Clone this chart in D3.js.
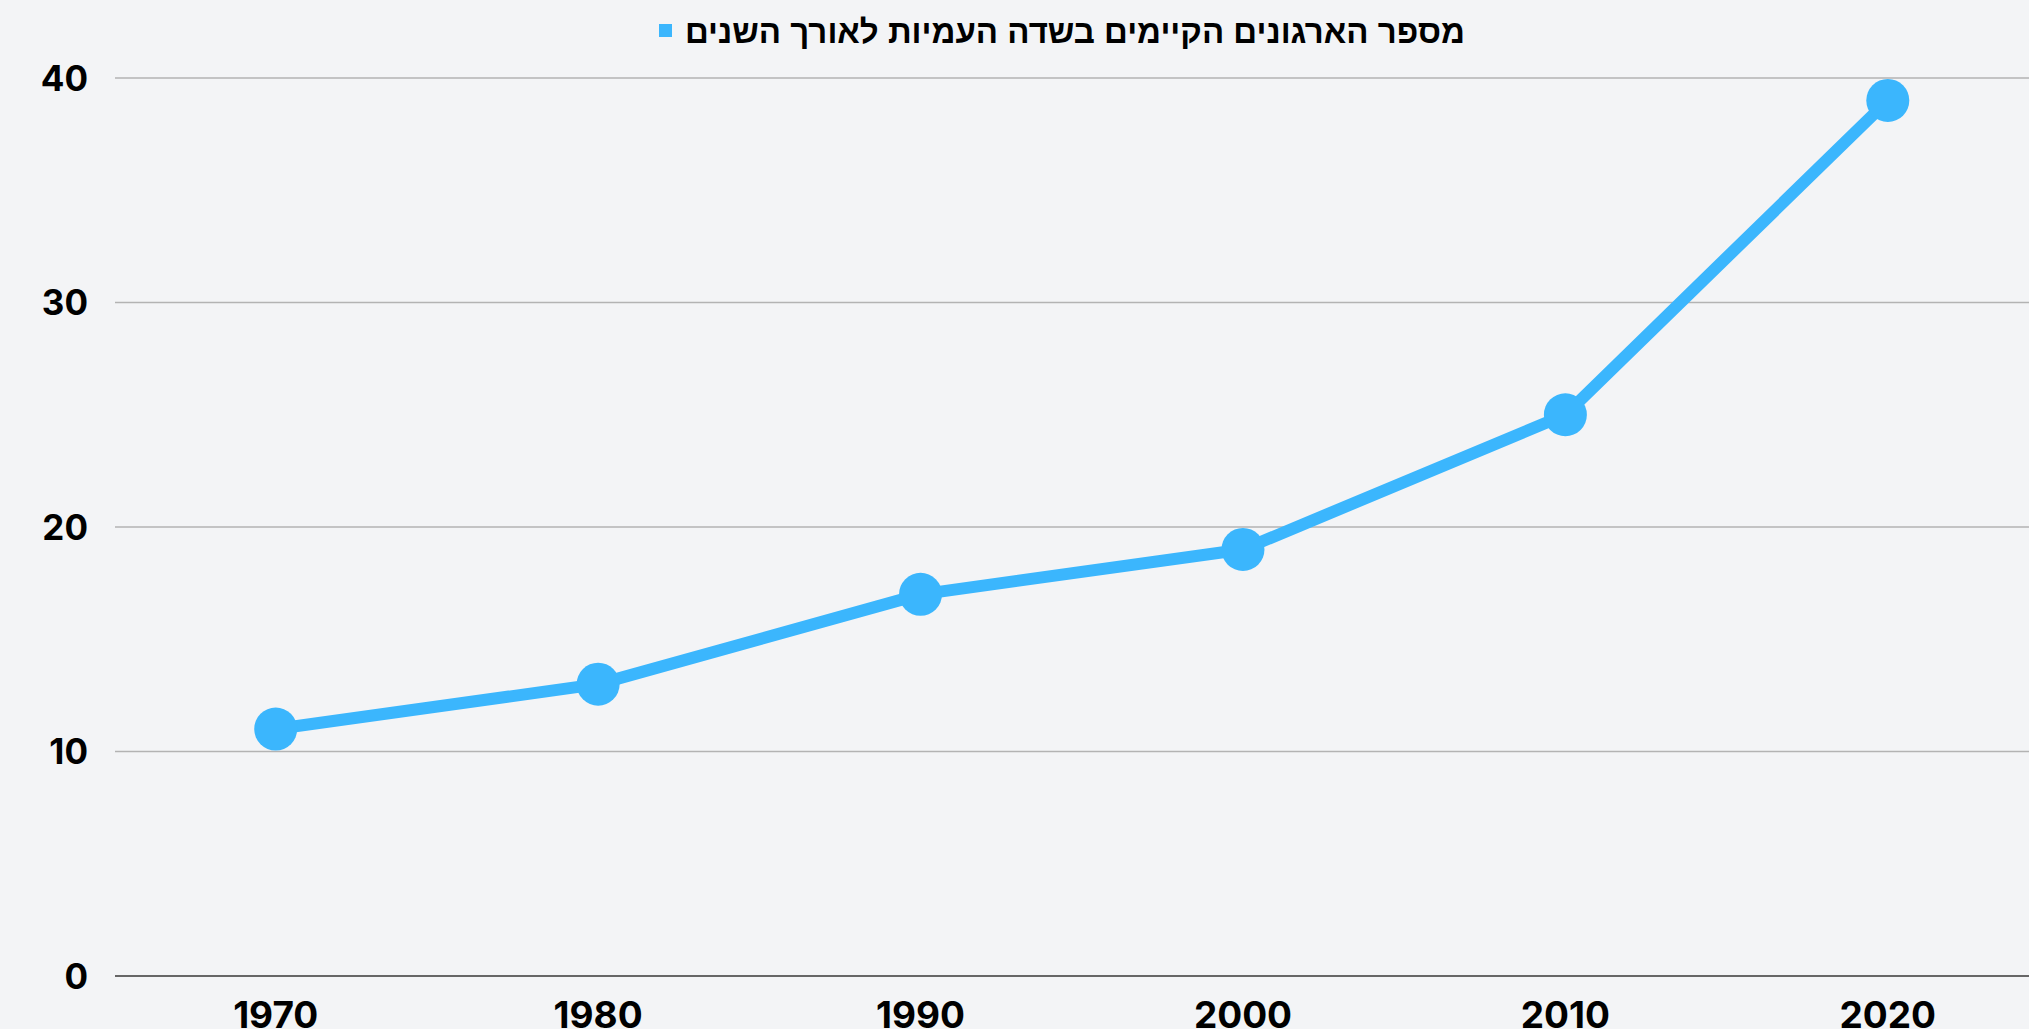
<!DOCTYPE html>
<html>
<head>
<meta charset="utf-8">
<script src="https://cdn.jsdelivr.net/npm/d3@7"></script>
<style>
  html, body { margin: 0; padding: 0; background: #f3f4f6; overflow: hidden; }
  svg { display: block; }
  .tick-label { font-family: "Inter", "Roboto", sans-serif; font-weight: 700; fill: #000; }
  .legend-text { font-family: "Liberation Sans", "DejaVu Sans", sans-serif; font-weight: 700; font-size: 33px; fill: #000; }
</style>
</head>
<body>
<svg id="chart"></svg>
<script>
// Set dimensions
const width = 2029, height = 1029;

// Data
const years = ["1970", "1980", "1990", "2000", "2010", "2020"];
const orgCounts = [11, 13, 17, 19, 25, 39];
const yTicks = [0, 10, 20, 30, 40];
const seriesName = "מספר הארגונים הקיימים בשדה העמיות לאורך השנים";
const lineColor = "#3bb6fd";

const svg = d3.select("#chart")
    .attr("width", width)
    .attr("height", height);

// Scales
const x = d3.scaleBand()
    .domain(years)
    .range([114.5, 2049]);

const y = d3.scaleLinear()
    .domain([0, 40])
    .range([976, 78]);

// Grid lines
svg.selectAll("line.grid")
    .data(yTicks.filter(d => d > 0))
    .enter()
    .append("line")
    .attr("class", "grid")
    .attr("x1", 115)
    .attr("x2", width)
    .attr("y1", d => y(d))
    .attr("y2", d => y(d))
    .attr("stroke", "#b3b3b3")
    .attr("stroke-width", 1.4);

// Base line
svg.append("line")
    .attr("x1", 115)
    .attr("x2", width)
    .attr("y1", y(0))
    .attr("y2", y(0))
    .attr("stroke", "#666")
    .attr("stroke-width", 2);

// Y labels
svg.selectAll("text.ylab")
    .data(yTicks)
    .enter()
    .append("text")
    .attr("class", "tick-label ylab")
    .attr("x", 88)
    .attr("y", d => y(d))
    .attr("dy", "0.36em")
    .attr("text-anchor", "end")
    .style("font-size", "35px")
    .text(d => d);

// X labels
svg.selectAll("text.xlab")
    .data(years)
    .enter()
    .append("text")
    .attr("class", "tick-label xlab")
    .attr("x", d => x(d) + x.bandwidth() / 2)
    .attr("y", 1028)
    .attr("text-anchor", "middle")
    .style("font-size", "37px")
    .text(d => d);

// Line
const line = d3.line()
    .x((d, i) => x(years[i]) + x.bandwidth() / 2)
    .y(d => y(d));

svg.append("path")
    .datum(orgCounts)
    .attr("d", line)
    .attr("fill", "none")
    .attr("stroke", lineColor)
    .attr("stroke-width", 12)
    .attr("stroke-linejoin", "round");

// Markers
svg.selectAll("circle.dot")
    .data(orgCounts)
    .enter()
    .append("circle")
    .attr("class", "dot")
    .attr("cx", (d, i) => x(years[i]) + x.bandwidth() / 2)
    .attr("cy", d => y(d))
    .attr("r", 21.5)
    .attr("fill", lineColor);

// Legend
const legend = svg.append("g");
legend.append("rect")
    .attr("x", 659)
    .attr("y", 24)
    .attr("width", 13)
    .attr("height", 13)
    .attr("fill", lineColor);
legend.append("text")
    .attr("class", "legend-text")
    .attr("x", 1075)
    .attr("y", 31)
    .attr("dy", "0.35em")
    .attr("text-anchor", "middle")
    .text(seriesName);
</script>
</body>
</html>
